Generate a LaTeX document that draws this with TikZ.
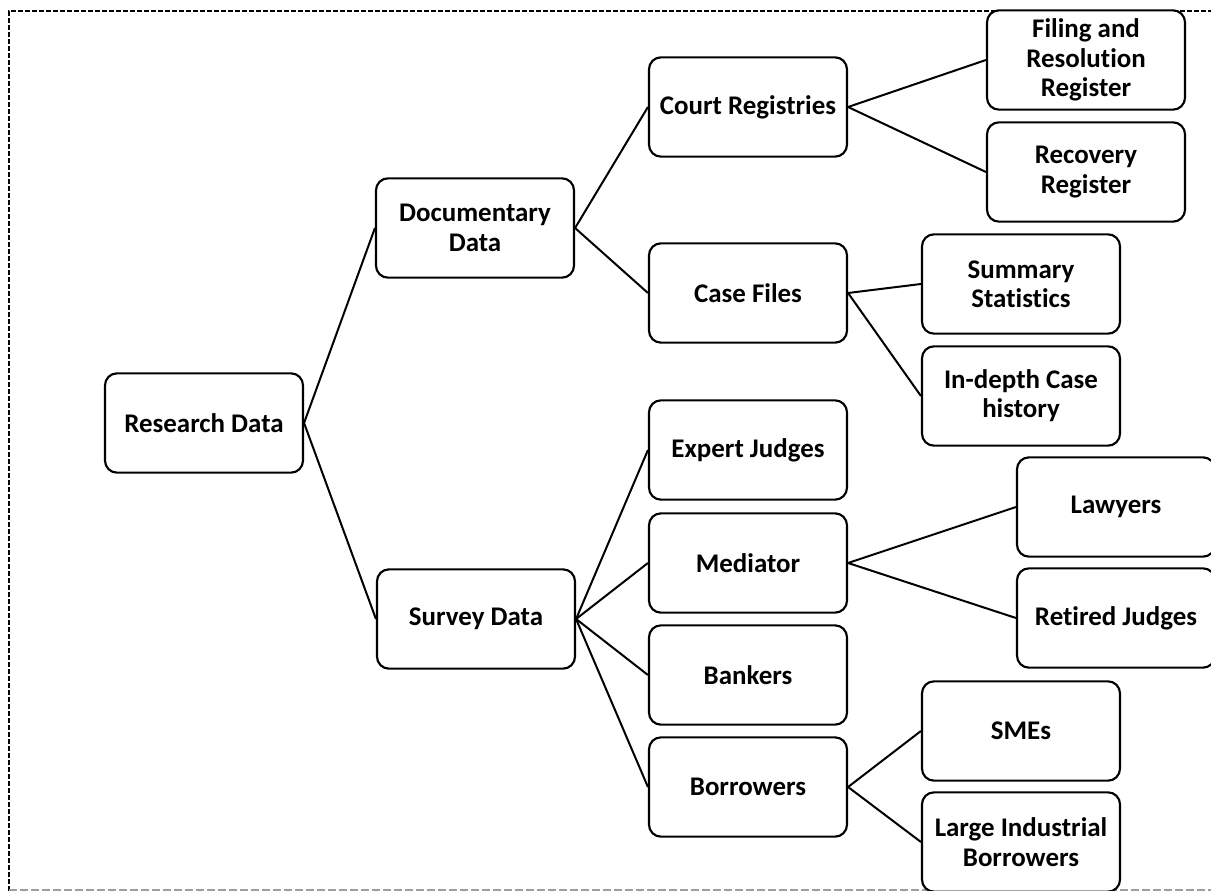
\documentclass[tikz,border=0pt]{standalone}
\usepackage{fontspec}
\setmainfont{Carlito}[Ligatures=NoCommon]
\begin{document}
\begin{tikzpicture}[x=0.75pt,y=-0.75pt,
  nd/.style={draw=black, line width=1.6pt, rounded corners=9pt, fill=white,
    minimum width=148.5pt, minimum height=74.5pt, inner sep=2pt, align=center,
    font=\fontsize{20.2pt}{22pt}\selectfont\bfseries},
  conn/.style={line width=1.5pt, draw=black}]
\useasboundingbox (0,0) rectangle (1211,891);
\clip (0,0) rectangle (1211,891);
% frame
\draw[line width=1.1pt, dash pattern=on 3.75pt off 1.5pt] (9,891) -- (9,11) -- (1215,11);
\draw[line width=1pt, draw=black!38, dash pattern=on 6pt off 2.25pt] (9,890) -- (1215,890);
% nodes
\node[nd] (rd) at (204,423) {Research Data};
\node[nd] (dd) at (475,228) {Documentary\\Data};
\node[nd] (sd) at (476,619) {Survey Data};
\node[nd] (cr) at (748,107) {Court Registries};
\node[nd] (cf) at (748,293) {Case Files};
\node[nd] (ej) at (748,450) {Expert Judges};
\node[nd] (me) at (748,563) {Mediator};
\node[nd] (bk) at (748,675) {Bankers};
\node[nd] (bo) at (748,787) {Borrowers};
\node[nd] (fr) at (1086,60) {Filing and\\Resolution\\Register};
\node[nd] (rr) at (1086,172) {Recovery\\Register};
\node[nd] (ss) at (1021,284) {Summary\\Statistics};
\node[nd] (ic) at (1021,396) {In-depth Case\\history};
\node[nd] (lw) at (1116,507) {Lawyers};
\node[nd] (rj) at (1116,618) {Retired Judges};
\node[nd] (sm) at (1021,731) {SMEs};
\node[nd] (lb) at (1021,842) {Large Industrial\\Borrowers};
% connectors
\draw[conn] (rd.east) -- (dd.west);
\draw[conn] (rd.east) -- (sd.west);
\draw[conn] (dd.east) -- (cr.west);
\draw[conn] (dd.east) -- (cf.west);
\draw[conn] (cr.east) -- (fr.west);
\draw[conn] (cr.east) -- (rr.west);
\draw[conn] (cf.east) -- (ss.west);
\draw[conn] (cf.east) -- (ic.west);
\draw[conn] (sd.east) -- (ej.west);
\draw[conn] (sd.east) -- (me.west);
\draw[conn] (sd.east) -- (bk.west);
\draw[conn] (sd.east) -- (bo.west);
\draw[conn] (me.east) -- (lw.west);
\draw[conn] (me.east) -- (rj.west);
\draw[conn] (bo.east) -- (sm.west);
\draw[conn] (bo.east) -- (lb.west);
\end{tikzpicture}
\end{document}
